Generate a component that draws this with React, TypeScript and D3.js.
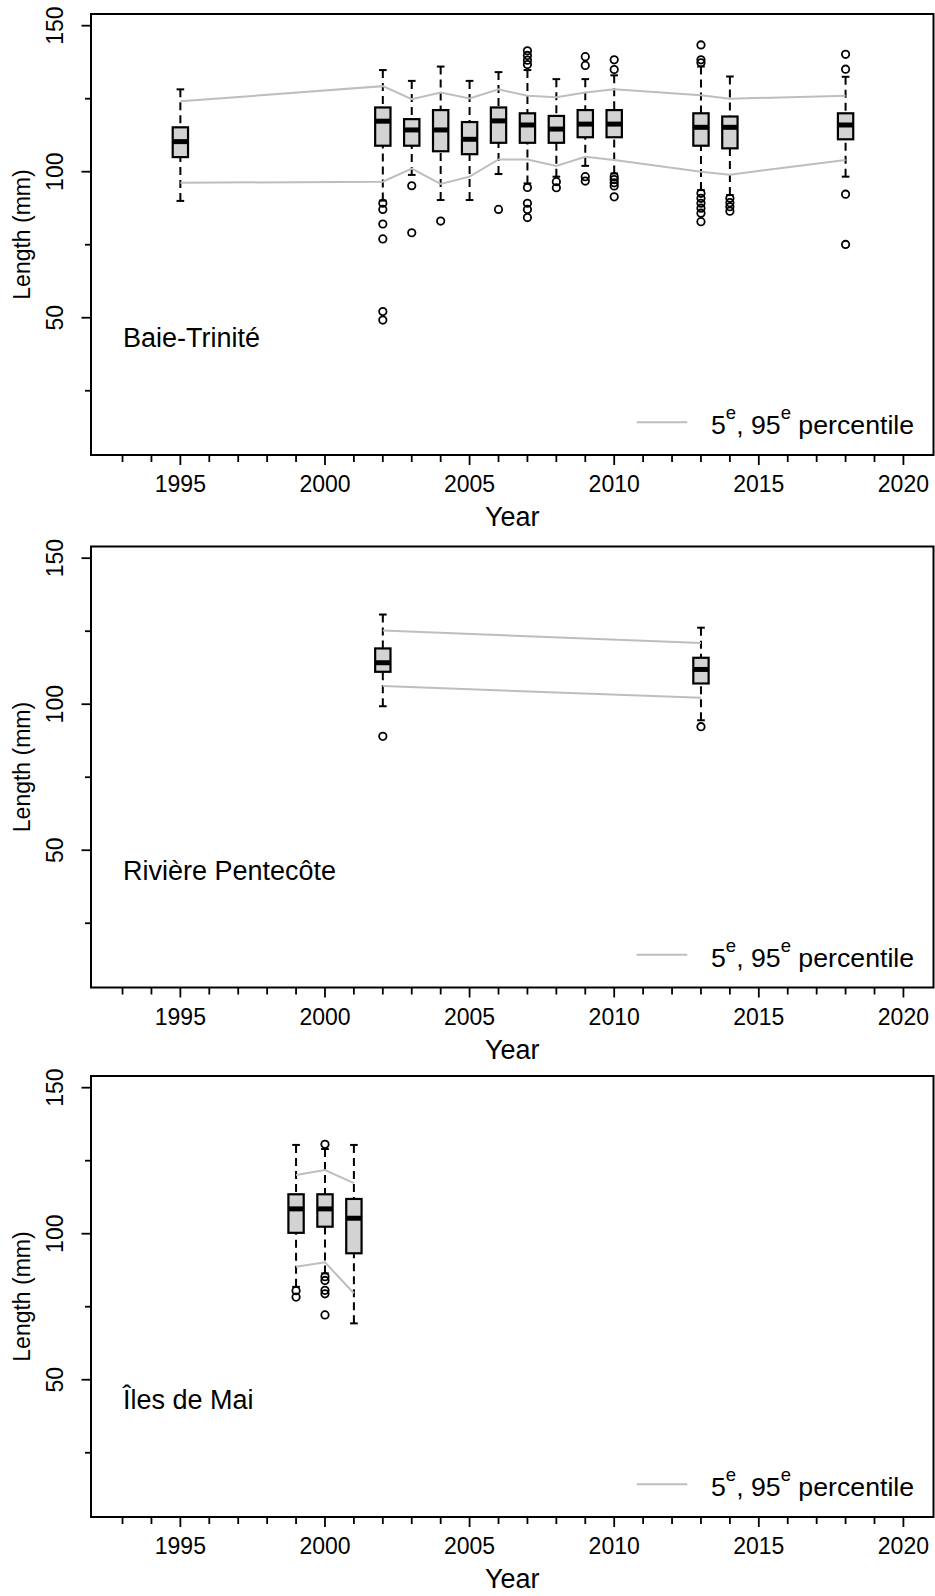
import React from 'react';
import * as d3 from 'd3';

// ---------- DATA ----------
const xTickLabels = [1995, 2000, 2005, 2010, 2015, 2020];
const yTickLabels = [50, 100, 150];

const btName = 'Baie-Trinité';
const btYears = [1995, 2002, 2003, 2004, 2005, 2006, 2007, 2008, 2009, 2010, 2013, 2014, 2018];
const btLow = [90.0, 90.1, 98.9, 90.3, 90.3, 99.2, 96.0, 98.3, 102.0, 99.4, 93.7, 92.0, 98.3];
const btQ1 = [105.0, 108.9, 108.9, 107.0, 106.0, 109.9, 109.9, 109.9, 111.8, 111.8, 108.9, 108.0, 111.1];
const btMedian = [110.3, 117.3, 114.3, 114.3, 111.1, 117.4, 116.0, 114.6, 116.3, 116.3, 115.2, 115.2, 116.0];
const btQ3 = [115.2, 122.0, 118.0, 121.1, 117.0, 122.0, 120.0, 119.1, 121.1, 121.1, 120.0, 118.9, 120.0];
const btHigh = [128.2, 134.8, 131.1, 136.0, 131.1, 134.1, 134.8, 131.7, 131.7, 133.0, 136.0, 132.6, 132.5];
const btP5 = [96.2, 96.6, 101.1, 95.8, 98.3, 104.2, 104.2, 102.0, 105.1, 104.0, 100.0, 99.0, 104.0];
const btP95 = [124.1, 129.3, 124.8, 127.1, 125.1, 128.2, 126.0, 125.5, 127.1, 128.2, 126.2, 125.0, 126.0];
const btOutliers = [
  [],
  [89.2, 87.1, 82.1, 77.0, 52.1, 49.2],
  [95.2, 79.1],
  [83.1],
  [],
  [87.1],
  [141.4, 139.8, 138.2, 136.7, 94.6, 89.2, 87.1, 84.3],
  [96.6, 94.5],
  [139.4, 136.4, 98.3, 96.8],
  [138.3, 135.0, 98.3, 97.3, 96.2, 95.1, 91.4],
  [143.4, 138.3, 137.3, 92.6, 90.9, 89.2, 87.5, 85.8, 82.9],
  [90.9, 89.4, 88.0, 86.5],
  [140.2, 135.1, 92.3, 75.1],
];

const rpName = 'Rivière Pentecôte';
const rpYears = [2002, 2013];
const rpLow = [99.3, 94.5];
const rpQ1 = [111.1, 107.1];
const rpMedian = [114.2, 111.9];
const rpQ3 = [119.1, 115.9];
const rpHigh = [130.7, 126.2];
const rpP5 = [106.2, 102.2];
const rpP95 = [125.2, 121.0];
const rpOutliers = [[89.0], [92.3]];

const imName = 'Îles de Mai';
const imYears = [1999, 2000, 2001];
const imLow = [81.8, 86.4, 69.3];
const imQ1 = [100.3, 102.4, 93.3];
const imMedian = [108.5, 108.5, 105.3];
const imQ3 = [113.5, 113.5, 111.9];
const imHigh = [130.4, 129.0, 130.4];
const imP5 = [88.7, 90.2, 79.6];
const imP95 = [120.1, 121.8, 117.3];
const imOutliers = [[80.5, 78.3], [130.6, 85.3, 84.0, 80.6, 79.4, 72.2], []];

// ---------- LAYOUT ----------
const W = 935;
const H = 1596;
const FONT = '"Liberation Sans", Arial, Helvetica, sans-serif';
const PLOT_L = 91;
const PLOT_R = 933.5;
const PLOT_T = 14;
const PLOT_B = 455;
const BOX_W_YEARS = 0.53;
const panelTops = [0, 532.5, 1062];

const xScale = d3.scaleLinear().domain([1991.91, 2021.04]).range([PLOT_L, PLOT_R]);
const yScale = d3.scaleLinear().domain([3, 154]).range([PLOT_B, PLOT_T]);

type Site = {
  name: string;
  years: number[];
  low: number[];
  q1: number[];
  med: number[];
  q3: number[];
  high: number[];
  p5: number[];
  p95: number[];
  out: number[][];
};

const sites: Site[] = [
  { name: btName, years: btYears, low: btLow, q1: btQ1, med: btMedian, q3: btQ3, high: btHigh, p5: btP5, p95: btP95, out: btOutliers },
  { name: rpName, years: rpYears, low: rpLow, q1: rpQ1, med: rpMedian, q3: rpQ3, high: rpHigh, p5: rpP5, p95: rpP95, out: rpOutliers },
  { name: imName, years: imYears, low: imLow, q1: imQ1, med: imMedian, q3: imQ3, high: imHigh, p5: imP5, p95: imP95, out: imOutliers },
];

function Panel({ site, top }: { site: Site; top: number }) {
  const bw = xScale(BOX_W_YEARS) - xScale(0);
  const line = d3
    .line<[number, number]>()
    .x((d) => xScale(d[0]))
    .y((d) => yScale(d[1]));
  const p95Path = line(site.years.map((y, i) => [y, site.p95[i]] as [number, number])) || '';
  const p5Path = line(site.years.map((y, i) => [y, site.p5[i]] as [number, number])) || '';
  const minorX = d3.range(1993, 2021);
  const minorY = [25, 75, 125];
  const yMid = (PLOT_T + PLOT_B) / 2;
  const xMid = (PLOT_L + PLOT_R) / 2;

  return (
    <g transform={`translate(0,${top})`}>
      {/* boxes */}
      {site.years.map((yr, i) => {
        const cx = xScale(yr);
        return (
          <g key={yr}>
            <line x1={cx} x2={cx} y1={yScale(site.high[i])} y2={yScale(site.q3[i])} stroke="#000" strokeWidth={2} strokeDasharray="8,5" />
            <line x1={cx} x2={cx} y1={yScale(site.low[i])} y2={yScale(site.q1[i])} stroke="#000" strokeWidth={2} strokeDasharray="8,5" />
            <line x1={cx - bw / 4} x2={cx + bw / 4} y1={yScale(site.high[i])} y2={yScale(site.high[i])} stroke="#000" strokeWidth={2} />
            <line x1={cx - bw / 4} x2={cx + bw / 4} y1={yScale(site.low[i])} y2={yScale(site.low[i])} stroke="#000" strokeWidth={2} />
            <rect x={cx - bw / 2} width={bw} y={yScale(site.q3[i])} height={yScale(site.q1[i]) - yScale(site.q3[i])} fill="#d3d3d3" stroke="#000" strokeWidth={2.2} />
            <line x1={cx - bw / 2} x2={cx + bw / 2} y1={yScale(site.med[i])} y2={yScale(site.med[i])} stroke="#000" strokeWidth={5} />
            {site.out[i].map((v, j) => (
              <circle key={j} cx={cx} cy={yScale(v)} r={3.7} fill="none" stroke="#000" strokeWidth={1.8} />
            ))}
          </g>
        );
      })}
      {/* percentile lines */}
      <path d={p95Path} fill="none" stroke="#bebebe" strokeWidth={2} />
      <path d={p5Path} fill="none" stroke="#bebebe" strokeWidth={2} />

      {/* frame */}
      <rect x={PLOT_L} y={PLOT_T} width={PLOT_R - PLOT_L} height={PLOT_B - PLOT_T} fill="none" stroke="#000" strokeWidth={2} />

      {/* x axis */}
      {minorX.map((yr) => {
        const major = xTickLabels.includes(yr);
        return (
          <line key={yr} x1={xScale(yr)} x2={xScale(yr)} y1={PLOT_B} y2={PLOT_B + (major ? 10 : 7)} stroke="#000" strokeWidth={1.8} />
        );
      })}
      {xTickLabels.map((yr) => (
        <text key={yr} x={xScale(yr)} y={PLOT_B + 37} textAnchor="middle" fontFamily={FONT} fontSize={23} fill="#000">
          {yr}
        </text>
      ))}
      <text x={xMid} y={PLOT_B + 71} textAnchor="middle" fontFamily={FONT} fontSize={27} fill="#000">
        Year
      </text>

      {/* y axis */}
      {minorY.map((v) => (
        <line key={v} x1={PLOT_L} x2={PLOT_L - 6} y1={yScale(v)} y2={yScale(v)} stroke="#000" strokeWidth={1.8} />
      ))}
      {yTickLabels.map((v) => (
        <g key={v}>
          <line x1={PLOT_L} x2={PLOT_L - 9.5} y1={yScale(v)} y2={yScale(v)} stroke="#000" strokeWidth={1.8} />
          <text transform={`translate(63,${yScale(v)}) rotate(-90)`} textAnchor="middle" fontFamily={FONT} fontSize={23} fill="#000">
            {v}
          </text>
        </g>
      ))}
      <text transform={`translate(30,${yMid}) rotate(-90)`} textAnchor="middle" fontFamily={FONT} fontSize={23} fill="#000">
        Length (mm)
      </text>

      {/* site label */}
      <text x={123} y={347} fontFamily={FONT} fontSize={27} fill="#000">
        {site.name}
      </text>

      {/* legend */}
      <line x1={636.7} x2={687.3} y1={422.3} y2={422.3} stroke="#bebebe" strokeWidth={2} />
      <text x={711} y={434} fontFamily={FONT} fontSize={26.7} fill="#000">
        5<tspan dy={-15} fontSize={18.5}>e</tspan>
        <tspan dy={15}>, 95</tspan>
        <tspan dy={-15} fontSize={18.5}>e</tspan>
        <tspan dy={15}> percentile</tspan>
      </text>
    </g>
  );
}

export default function App() {
  return (
    <svg
      width={W}
      height={H}
      viewBox={`0 0 ${W} ${H}`}
      style={{ position: 'absolute', left: 0, top: 0, background: '#fff' }}
    >
      <rect x={0} y={0} width={W} height={H} fill="#fff" />
      {sites.map((s, i) => (
        <Panel key={s.name} site={s} top={panelTops[i]} />
      ))}
    </svg>
  );
}
